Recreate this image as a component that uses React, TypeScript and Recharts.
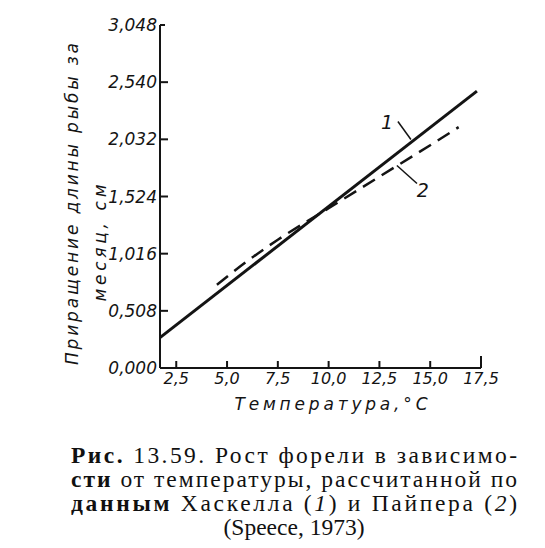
import React from 'react';
import { LineChart, Line, XAxis, YAxis, ReferenceLine, ReferenceDot } from 'recharts';

// Monthly growth increment of trout (cm) versus water temperature (°C)
const haskellTemp = [1.7, 17.3];
const haskellGrowth = [0.27, 2.46];
const piperTemp = [4.5, 6, 7.5, 9, 10, 12.5, 15, 16.4];
const piperGrowth = [0.74, 0.95, 1.14, 1.31, 1.42, 1.7, 1.98, 2.14];

const xTicks = [2.5, 5, 7.5, 10, 12.5, 15, 17.5];
const xTickLabels = ['2,5', '5,0', '7,5', '10,0', '12,5', '15,0', '17,5'];
const yTicks = [0, 0.508, 1.016, 1.524, 2.032, 2.54, 3.048];
const yTickLabels = ['0,000', '0,508', '1,016', '1,524', '2,032', '2,540', '3,048'];

const xTitle = 'Температура,°C';
const yTitleLine1 = 'Приращение длины рыбы за';
const yTitleLine2 = 'месяц, см';

// Curve markers: label text, label anchor and leader segment, in data units
const curveMarks = [
  { text: '1', at: [12.87, 2.19], from: [13.41, 2.19], to: [14.05, 2.03] },
  { text: '2', at: [14.64, 1.58], from: [13.36, 1.8], to: [14.35, 1.64] },
];

const captionLines = [
  'Рис. 13.59. Рост форели в зависимо-',
  'сти от температуры, рассчитанной по',
  'данным Хаскелла (1) и Пайпера (2)',
  '(Speece, 1973)',
];

const haskellData = haskellTemp.map((t, i) => ({ t, v: haskellGrowth[i] }));
const piperData = piperTemp.map((t, i) => ({ t, v: piperGrowth[i] }));

const INK = '#141414';
const AXIS_FONT = '"DejaVu Sans", sans-serif';

const YTick = (props: any) => {
  const { x, y, payload } = props;
  const i = yTicks.indexOf(payload.value);
  const len = i === yTicks.length - 1 ? 5 : 8;
  return (
    <g>
      <line x1={x} x2={x + len} y1={y} y2={y} stroke={INK} strokeWidth={2} />
      <text
        x={x - 3}
        y={y}
        textAnchor="end"
        dominantBaseline="central"
        fontFamily={AXIS_FONT}
        fontStyle="italic"
        fontSize={17}
        fill={INK}
      >
        {yTickLabels[i]}
      </text>
    </g>
  );
};

const XTick = (props: any) => {
  const { x, y, payload } = props;
  const i = xTicks.indexOf(payload.value);
  const len = i === xTicks.length - 1 ? 12 : 7;
  return (
    <g>
      <line x1={x} x2={x} y1={y} y2={y - len} stroke={INK} strokeWidth={2} />
      <text
        x={x}
        y={y + 10}
        textAnchor="middle"
        dominantBaseline="central"
        fontFamily={AXIS_FONT}
        fontStyle="italic"
        fontSize={16}
        fill={INK}
      >
        {xTickLabels[i]}
      </text>
    </g>
  );
};

const XTitle = (props: any) => {
  const vb = props.viewBox || { x: 0, y: 0, width: 0, height: 0 };
  const cx = vb.x + vb.width / 2 + 10.5;
  const cy = vb.y + 36;
  return (
    <text
      x={cx}
      y={cy}
      textAnchor="middle"
      dominantBaseline="central"
      fontFamily={AXIS_FONT}
      fontStyle="italic"
      fontSize={17}
      textLength={193}
      lengthAdjust="spacing"
      fill={INK}
    >
      {xTitle}
    </text>
  );
};

const YTitle = (props: any) => {
  const vb = props.viewBox || { x: 0, y: 0, width: 0, height: 0 };
  const axisX = vb.x + vb.width;
  const c1x = axisX - 88;
  const c1y = vb.y + 179;
  const c2x = axisX - 60;
  const c2y = vb.y + 218;
  return (
    <g fontFamily={AXIS_FONT} fontStyle="italic" fontSize={17} fill={INK}>
      <text
        x={c1x}
        y={c1y}
        transform={`rotate(-90 ${c1x} ${c1y})`}
        textAnchor="middle"
        dominantBaseline="central"
        textLength={322}
        lengthAdjust="spacing"
      >
        {yTitleLine1}
      </text>
      <text
        x={c2x}
        y={c2y}
        transform={`rotate(-90 ${c2x} ${c2y})`}
        textAnchor="middle"
        dominantBaseline="central"
        textLength={117}
        lengthAdjust="spacing"
      >
        {yTitleLine2}
      </text>
    </g>
  );
};

const MarkLabel = (props: any) => {
  const vb = props.viewBox || { x: 0, y: 0 };
  return (
    <text
      x={vb.x}
      y={vb.y}
      textAnchor="middle"
      dominantBaseline="central"
      fontFamily={AXIS_FONT}
      fontStyle="italic"
      fontSize={19}
      fill={INK}
    >
      {props.text}
    </text>
  );
};

const Caption = () => {
  const left = 63;
  const width = 446;
  const baselines = [34.7, 58.7, 83, 107];
  const font = '"Liberation Serif", "DejaVu Serif", serif';
  return (
    <svg width={537} height={120} style={{ position: 'absolute', left: 0, top: 420 }}>
      <g fontFamily={font} fontSize={23.5} fill="#111">
        <text x={left} y={baselines[0]} textLength={width} lengthAdjust="spacing">
          <tspan fontWeight="bold">{captionLines[0].slice(0, 4)}</tspan>
          {captionLines[0].slice(4)}
        </text>
        <text x={left} y={baselines[1]} textLength={width} lengthAdjust="spacing">
          <tspan fontWeight="bold">{captionLines[1].slice(0, 3)}</tspan>
          {captionLines[1].slice(3)}
        </text>
        <text x={left} y={baselines[2]} textLength={width} lengthAdjust="spacing">
          <tspan fontWeight="bold">{captionLines[2].slice(0, 6)}</tspan>
          {' Хаскелла ('}
          <tspan fontStyle="italic">1</tspan>
          {') и Пайпера ('}
          <tspan fontStyle="italic">2</tspan>
          {')'}
        </text>
        <text x={left + width / 2} y={baselines[3]} textAnchor="middle">
          {captionLines[3]}
        </text>
      </g>
    </svg>
  );
};

export default function App() {
  return (
    <div style={{ position: 'relative', width: 537, height: 532, background: '#fff' }}>
      <LineChart
        width={537}
        height={420}
        margin={{ top: 17, right: 64, bottom: 30, left: 92 }}
        style={{ position: 'absolute', left: 0, top: 0 }}
      >
        <XAxis
          type="number"
          dataKey="t"
          domain={[1.7, 17.5]}
          ticks={xTicks}
          allowDataOverflow
          height={30}
          tickSize={0}
          tickMargin={0}
          tickLine={false}
          axisLine={{ stroke: INK, strokeWidth: 2 }}
          tick={<XTick />}
          interval={0}
          label={<XTitle />}
        />
        <YAxis
          type="number"
          dataKey="v"
          domain={[0, 3.048]}
          ticks={yTicks}
          allowDataOverflow
          width={60}
          tickSize={0}
          tickMargin={0}
          tickLine={false}
          axisLine={{ stroke: INK, strokeWidth: 2 }}
          tick={<YTick />}
          interval={0}
          label={<YTitle />}
        />
        <Line
          data={haskellData}
          dataKey="v"
          type="linear"
          stroke={INK}
          strokeWidth={3}
          dot={false}
          isAnimationActive={false}
        />
        <Line
          data={piperData}
          dataKey="v"
          type="monotone"
          stroke={INK}
          strokeWidth={2.5}
          strokeDasharray="14 8"
          dot={false}
          isAnimationActive={false}
        />
        {curveMarks.map((m) => (
          <ReferenceLine
            key={`seg-${m.text}`}
            segment={[
              { x: m.from[0], y: m.from[1] },
              { x: m.to[0], y: m.to[1] },
            ]}
            stroke={INK}
            strokeWidth={1.5}
          />
        ))}
        {curveMarks.map((m) => (
          <ReferenceDot
            key={`lab-${m.text}`}
            x={m.at[0]}
            y={m.at[1]}
            r={0}
            fill="none"
            stroke="none"
            label={<MarkLabel text={m.text} />}
          />
        ))}
      </LineChart>
      <Caption />
    </div>
  );
}
